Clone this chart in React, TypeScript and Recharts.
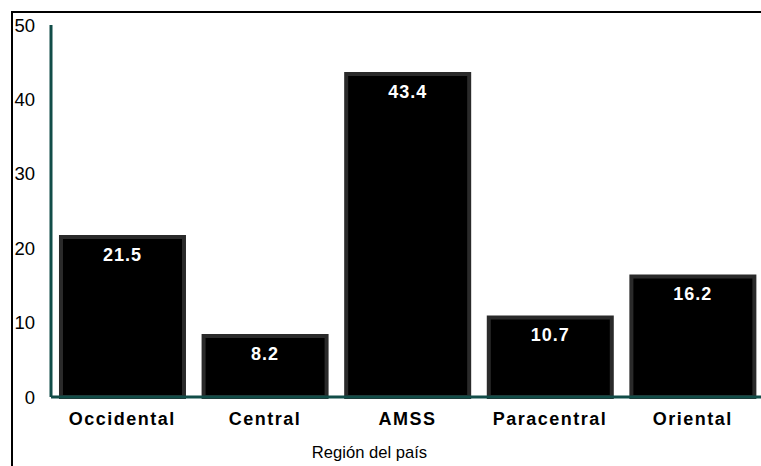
import React from "react";
import { BarChart, Bar, XAxis, YAxis, LabelList, Label } from "recharts";

const regions = ["Occidental", "Central", "AMSS", "Paracentral", "Oriental"];
const shares = [21.5, 8.2, 43.4, 10.7, 16.2];
const yTicks = [0, 10, 20, 30, 40, 50];

const data = regions.map((region, i) => ({ region, value: shares[i] }));

const axisColor = "#114d48";
const font = "Arial, Liberation Sans, sans-serif";

export default function App() {
  return (
    <div
      style={{
        position: "absolute",
        left: 0,
        top: 0,
        width: 761,
        height: 466,
        overflow: "hidden",
        background: "#fff",
      }}
    >
      <div
        style={{
          position: "absolute",
          left: 11,
          top: 11,
          width: 800,
          height: 500,
          borderLeft: "2px solid #000",
          borderTop: "2px solid #000",
        }}
      />
      <div style={{ position: "absolute", left: 0, top: 0 }}>
        <BarChart
          width={780}
          height={466}
          data={data}
          margin={{ top: 25, right: 16, left: 0, bottom: 0 }}
          barCategoryGap="7%"
        >
          <YAxis
            width={51}
            domain={[0, 50]}
            ticks={yTicks}
            interval={0}
            tickLine={false}
            tickMargin={10}
            axisLine={{ stroke: axisColor, strokeWidth: 3 }}
            tick={{ fill: "#000", fontSize: 18.5, fontFamily: font }}
          />
          <XAxis
            dataKey="region"
            height={69}
            tickLine={false}
            tickMargin={9}
            axisLine={{ stroke: axisColor, strokeWidth: 3 }}
            tick={{
              fill: "#000",
              fontSize: 18,
              fontWeight: "bold",
              letterSpacing: 1.5,
              fontFamily: font,
            }}
          >
            <Label
              value="Región del país"
              position="insideBottom"
              offset={8}
              dx={-38}
              style={{ fill: "#000", fontSize: 16.6, fontFamily: font }}
            />
          </XAxis>
          <Bar
            dataKey="value"
            fill="#000"
            stroke="#2a2a2a"
            strokeWidth={4}
            isAnimationActive={false}
          >
            <LabelList
              dataKey="value"
              position="insideTop"
              offset={11}
              style={{
                fill: "#fff",
                fontSize: 18,
                fontWeight: "bold",
                letterSpacing: 1,
                fontFamily: font,
              }}
            />
          </Bar>
        </BarChart>
      </div>
    </div>
  );
}
